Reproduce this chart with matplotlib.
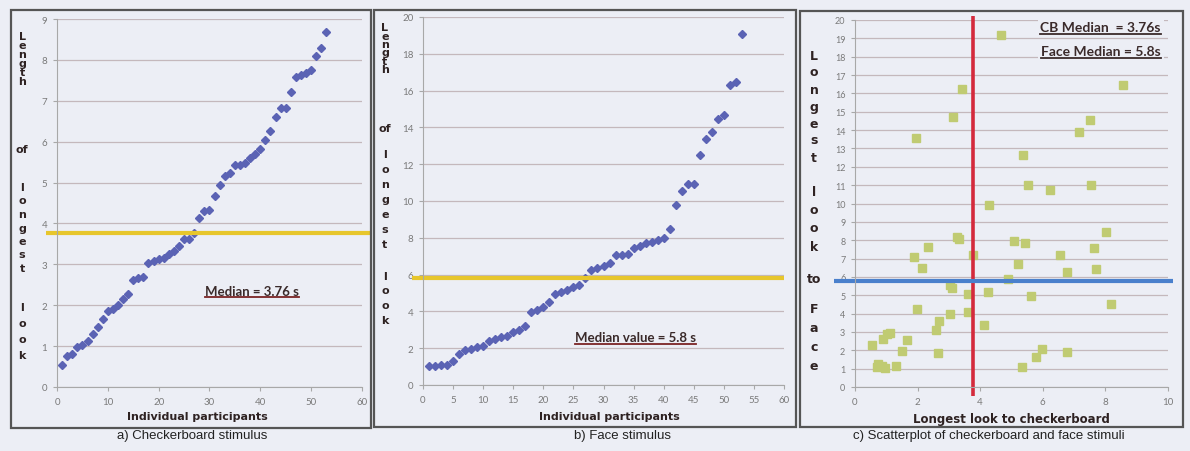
"""
Longest-look figure: sorted looking times for the checkerboard and face
stimuli, plus a scatterplot of the two with the medians marked.
"""
import matplotlib
matplotlib.use('Agg')
import matplotlib.pyplot as plt
from matplotlib.lines import Line2D
from matplotlib.patches import Rectangle
from matplotlib import font_manager

# Longest look (s) per participant, sorted ascending
checkerboard_looks = [0.54, 0.77, 0.81, 0.97, 1.03, 1.13, 1.30, 1.46, 1.67, 1.87,
                      1.91, 2.01, 2.16, 2.28, 2.61, 2.66, 2.69, 3.04, 3.07, 3.12,
                      3.15, 3.26, 3.32, 3.46, 3.63, 3.63, 3.76, 4.13, 4.31, 4.32,
                      4.66, 4.95, 5.15, 5.24, 5.44, 5.44, 5.48, 5.60, 5.69, 5.83,
                      6.03, 6.27, 6.61, 6.83, 6.83, 7.21, 7.59, 7.62, 7.67, 7.75,
                      8.10, 8.28, 8.68]
face_looks = [1.05, 1.05, 1.06, 1.10, 1.33, 1.70, 1.90, 1.97, 2.06, 2.10,
              2.38, 2.50, 2.60, 2.69, 2.87, 3.00, 3.23, 3.95, 4.08, 4.22,
              4.50, 4.95, 5.05, 5.15, 5.30, 5.45, 5.80, 6.25, 6.35, 6.48,
              6.63, 7.07, 7.07, 7.10, 7.45, 7.55, 7.70, 7.76, 7.90, 7.97,
              8.48, 9.78, 10.56, 10.90, 10.90, 12.52, 13.37, 13.77, 14.46, 14.69,
              16.32, 16.45, 19.10]
cb_median = 3.76
face_median = 5.8

# Per-participant pairs (checkerboard, face)
scatter_cb = [0.53, 0.70, 0.75, 0.85, 0.90, 0.95, 1.01, 1.12, 1.31, 1.49,
              1.67, 1.88, 1.94, 1.99, 2.15, 2.32, 2.60, 2.64, 2.68, 3.03,
              3.03, 3.11, 3.14, 3.25, 3.32, 3.43, 3.60, 3.62, 3.77, 4.13,
              4.25, 4.28, 4.65, 4.90, 5.08, 5.21, 5.35, 5.37, 5.43, 5.53,
              5.61, 5.78, 5.96, 6.22, 6.56, 6.76, 6.78, 7.16, 7.50, 7.53,
              7.63, 7.69, 8.01, 8.17, 8.56]
scatter_face = [2.27, 1.10, 1.25, 1.15, 2.63, 1.05, 2.87, 2.93, 1.13, 1.96,
                2.54, 7.11, 13.56, 4.24, 6.48, 7.62, 3.10, 1.83, 3.60, 5.55,
                3.97, 5.38, 14.73, 8.15, 8.05, 16.25, 5.05, 4.06, 7.20, 3.38,
                5.18, 9.90, 19.20, 5.88, 7.93, 6.70, 1.11, 12.66, 7.84, 11.00,
                4.96, 1.66, 2.09, 10.73, 7.19, 6.24, 1.93, 13.87, 14.55, 11.00,
                7.60, 6.42, 8.47, 4.51, 16.46]

captions = ['a) Checkerboard stimulus', 'b) Face stimulus',
            'c) Scatterplot of checkerboard and face stimuli']

W, H = 1190, 452
BG = '#eceef5'
GRID = '#c4b8bc'
TICK = '#7a7a7a'
LABEL = '#2e2222'


def font_or(name, fallback):
    try:
        font_manager.findfont(name, fallback_to_default=False)
        return name
    except ValueError:
        return fallback


NARROW = font_or('Liberation Sans Narrow', 'Liberation Sans')
TICKFONT = font_or('Lato', 'DejaVu Sans')


def px_axes(fig, x0, x1, y_top, y_bottom):
    """Axes placed by pixel edges (y measured from the top)."""
    return fig.add_axes([x0 / W, 1 - y_bottom / H, (x1 - x0) / W, (y_bottom - y_top) / H])


def style_axes(ax, fontsize=7):
    ax.set_facecolor('none')
    for side in ('top', 'right'):
        ax.spines[side].set_visible(False)
    for side in ('left', 'bottom'):
        ax.spines[side].set_color('#a8a8a8')
        ax.spines[side].set_linewidth(0.8)
    ax.grid(axis='y', color=GRID, lw=0.9)
    ax.set_axisbelow(True)
    ax.tick_params(colors='#a8a8a8', labelcolor=TICK, labelsize=fontsize,
                   length=3, width=0.8, pad=4)
    for lab in ax.get_xticklabels() + ax.get_yticklabels():
        lab.set_fontfamily(TICKFONT)


def underlined(fig, ax, x, y, s, line_color, **kw):
    t = ax.text(x, y, s, **kw)
    fig.canvas.draw()
    bb = t.get_window_extent()
    uy = (bb.y0 - 0.5) / H
    fig.add_artist(Line2D([bb.x0 / W, bb.x1 / W], [uy, uy], transform=fig.transFigure,
                          color=line_color, lw=1.3))
    return t


def stacked_label(fig, x_px, words, size=8.5):
    """Vertical axis title written one letter under another."""
    for word, y_top, step in words:
        if word in ('of', 'to'):
            fig.text(x_px / W, 1 - y_top / H, word, ha='center', va='center',
                     fontsize=size, fontweight='bold', color=LABEL)
            continue
        for i, ch in enumerate(word):
            fig.text(x_px / W, 1 - (y_top + i * step) / H, ch, ha='center', va='center',
                     fontsize=size, fontweight='bold', color=LABEL)


def frame(fig, x0, x1, y0, y1):
    fig.add_artist(Rectangle((x0 / W, 1 - y1 / H), (x1 - x0) / W, (y1 - y0) / H,
                             transform=fig.transFigure, fill=False,
                             ec='#555555', lw=1.6))


def main():
    fig = plt.figure(figsize=(W / 100, H / 100), dpi=100, facecolor=BG)

    frame(fig, 11, 371, 11, 429)
    frame(fig, 374, 796, 11, 428)
    frame(fig, 800, 1183, 12, 428)

    # a) checkerboard
    ax = px_axes(fig, 57, 362, 20, 388)
    participants = range(1, len(checkerboard_looks) + 1)
    ax.plot(participants, checkerboard_looks, 'D', ms=4.2, color='#5b63b4', mec='#5b63b4')
    ax.set_xlim(0, 60)
    ax.set_ylim(0, 9)
    ax.set_xticks(range(0, 61, 10))
    ax.set_yticks(range(0, 10))
    style_axes(ax)
    ax.plot([-0.035, 1.027], [cb_median, cb_median], color='#e7c62c', lw=3,
            transform=ax.get_yaxis_transform(), clip_on=False, solid_capstyle='butt')
    underlined(fig, ax, 38.4, 2.35, 'Median = 3.76 s', '#7a2424', ha='center', va='center',
               fontsize=9.5, fontweight='bold', color='#3a2a2a', family=TICKFONT)
    stacked_label(fig, 22, [('Length', 37, 9), ('of', 150, 0),
                            ('longest', 188, 13.5), ('look', 308, 16)], size=8)
    fig.text(197 / W, 1 - 417 / H, 'Individual participants', ha='center', va='center',
             fontsize=8, fontweight='bold', color=LABEL)

    # b) face
    ax = px_axes(fig, 423, 784, 18, 386)
    participants = range(1, len(face_looks) + 1)
    ax.plot(participants, face_looks, 'D', ms=4.2, color='#5b63b4', mec='#5b63b4')
    ax.set_xlim(0, 60)
    ax.set_ylim(0, 20)
    ax.set_xticks(range(0, 61, 5))
    ax.set_yticks(range(0, 21, 2))
    style_axes(ax)
    ax.plot([-0.03, 1.0], [face_median, face_median], color='#e7c62c', lw=3,
            transform=ax.get_yaxis_transform(), clip_on=False, solid_capstyle='butt')
    underlined(fig, ax, 35.3, 2.6, 'Median value = 5.8 s', '#7a2424', ha='center', va='center',
               fontsize=9.5, fontweight='bold', color='#3a2a2a', family=TICKFONT)
    stacked_label(fig, 385, [('Length', 28, 8.5), ('of', 129, 0),
                             ('longest', 155, 15), ('look', 277, 14.5)], size=8)
    fig.text(609 / W, 1 - 417 / H, 'Individual participants', ha='center', va='center',
             fontsize=8, fontweight='bold', color=LABEL)

    # c) scatter of the two stimuli
    ax = px_axes(fig, 855, 1168, 21, 388)
    ax.plot(scatter_cb, scatter_face, 's', ms=6.2, color='#c0cb72', mec='#c0cb72')
    ax.set_xlim(0, 10)
    ax.set_ylim(0, 20)
    ax.set_xticks(range(0, 11, 2))
    ax.set_yticks(range(0, 21))
    style_axes(ax, fontsize=6.5)
    ax.tick_params(axis='x', labelsize=7)
    ax.plot([cb_median, cb_median], [-0.025, 1.012], color='#d42a3c', lw=2.6,
            transform=ax.get_xaxis_transform(), clip_on=False, solid_capstyle='butt')
    ax.plot([-0.067, 1.015], [face_median, face_median], color='#4a80cc', lw=3,
            transform=ax.get_yaxis_transform(), clip_on=False, solid_capstyle='butt')
    box = dict(facecolor=BG, edgecolor='none', pad=2)
    underlined(fig, ax, 9.77, 19.6, 'CB Median  = 3.76s', '#3a2a2a', ha='right', va='center',
               fontsize=10, fontweight='bold', color='#3a2a2a', family=TICKFONT, bbox=box)
    underlined(fig, ax, 9.77, 18.3, 'Face Median = 5.8s', '#3a2a2a', ha='right', va='center',
               fontsize=10, fontweight='bold', color='#3a2a2a', family=TICKFONT, bbox=box)
    stacked_label(fig, 814, [('Longest', 56, 17), ('look', 192, 18.5), ('to', 280, 0),
                             ('Face', 310, 19)], size=9)
    fig.text(1011 / W, 1 - 419 / H, 'Longest look to checkerboard', ha='center', va='center',
             fontsize=8.5, fontweight='bold', color=LABEL)

    for cx, text in zip([192, 623, 989], captions):
        fig.text(cx / W, 1 - 436 / H, text, ha='center', va='center',
                 fontsize=9.5, color='#222222', family=NARROW)

    fig.savefig('out.png', dpi=100, facecolor=BG)


if __name__ == '__main__':
    main()
